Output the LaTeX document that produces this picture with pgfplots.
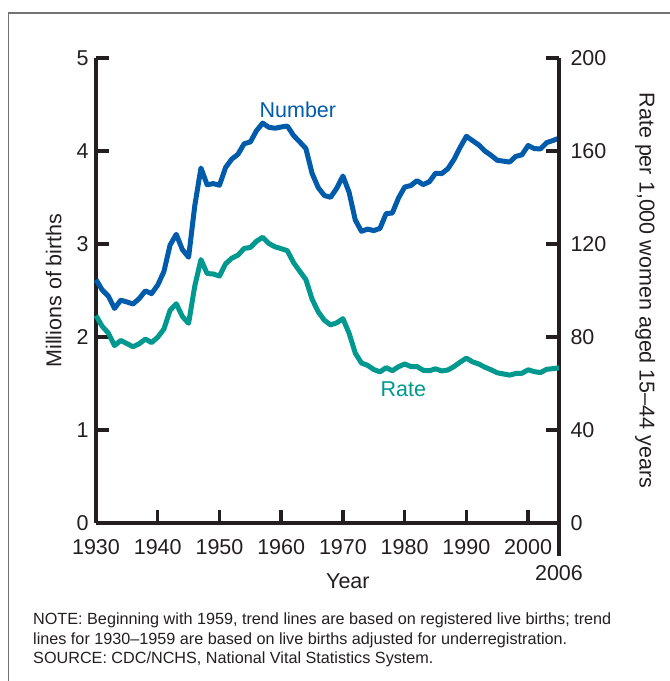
\documentclass[border=0pt]{standalone}
\usepackage{pgfplots}
\pgfplotsset{compat=1.18}
\usepackage{fontspec}
\setmainfont{Liberation Sans}

\definecolor{numblue}{RGB}{0,91,170}
\definecolor{rateteal}{RGB}{0,152,143}
\definecolor{txt}{RGB}{35,31,32}
\definecolor{framegray}{RGB}{115,115,115}

% births in millions, 1930-2005
\pgfplotstableread{
year num
1930 2.618
1931 2.506
1932 2.440
1933 2.307
1934 2.396
1935 2.377
1936 2.355
1937 2.413
1938 2.496
1939 2.466
1940 2.559
1941 2.703
1942 2.989
1943 3.104
1944 2.939
1945 2.858
1946 3.411
1947 3.817
1948 3.637
1949 3.649
1950 3.632
1951 3.823
1952 3.913
1953 3.965
1954 4.078
1955 4.097
1956 4.218
1957 4.300
1958 4.255
1959 4.245
1960 4.258
1961 4.268
1962 4.167
1963 4.098
1964 4.027
1965 3.760
1966 3.606
1967 3.521
1968 3.502
1969 3.600
1970 3.731
1971 3.556
1972 3.258
1973 3.137
1974 3.160
1975 3.144
1976 3.168
1977 3.327
1978 3.333
1979 3.494
1980 3.612
1981 3.629
1982 3.681
1983 3.639
1984 3.669
1985 3.761
1986 3.757
1987 3.809
1988 3.910
1989 4.041
1990 4.158
1991 4.111
1992 4.065
1993 4.000
1994 3.953
1995 3.900
1996 3.891
1997 3.881
1998 3.942
1999 3.959
2000 4.059
2001 4.026
2002 4.022
2003 4.090
2004 4.112
2005 4.138
}\numtable

% rate per 1,000 women aged 15-44
\pgfplotstableread{
year rate
1930 89.2
1931 84.6
1932 81.7
1933 76.3
1934 78.5
1935 77.2
1936 75.8
1937 77.1
1938 79.1
1939 77.6
1940 79.9
1941 83.4
1942 91.5
1943 94.3
1944 88.8
1945 85.9
1946 101.9
1947 113.3
1948 107.3
1949 107.1
1950 106.2
1951 111.5
1952 113.9
1953 115.2
1954 118.1
1955 118.5
1956 121.2
1957 122.9
1958 120.2
1959 118.8
1960 118.0
1961 117.1
1962 112.0
1963 108.3
1964 104.7
1965 96.3
1966 90.8
1967 87.2
1968 85.2
1969 86.1
1970 87.9
1971 81.6
1972 73.1
1973 68.8
1974 67.8
1975 66.0
1976 65.0
1977 66.8
1978 65.5
1979 67.2
1980 68.4
1981 67.3
1982 67.3
1983 65.7
1984 65.5
1985 66.3
1986 65.4
1987 65.8
1988 67.3
1989 69.2
1990 70.9
1991 69.3
1992 68.4
1993 67.0
1994 65.9
1995 64.6
1996 64.1
1997 63.6
1998 64.3
1999 64.4
2000 65.9
2001 65.1
2002 64.7
2003 66.1
2004 66.4
2005 66.7
}\ratetable

\pgfplotsset{
  base/.style={
    scale only axis, width=463pt, height=465pt,
    at={(96pt,158pt)}, anchor=south west,
    xmin=1930, xmax=2005, ymin=0,
    font=\fontsize{21.5}{25}\selectfont,
    tick align=inside, major tick length=13pt,
    axis line style={line width=3.5pt, txt},
    every tick/.style={line width=3.5pt, txt},
    tick label style={txt},
    label style={txt},
    /pgf/number format/assume math mode=true,
    /pgf/number format/1000 sep={},
    clip=false,
  },
}

\begin{document}
\begin{tikzpicture}[x=1pt,y=1pt]
\useasboundingbox (0,0) rectangle (670,681);
\draw[framegray, line width=1.2pt] (8.5,-2) -- (8.5,668) -- (672,668);

\begin{axis}[base,
    ymax=5,
    axis x line*=bottom, axis y line*=left,
    xtick={1930,1940,...,2000},
    extra x ticks={2005}, extra x tick labels={2006},
    extra x tick style={tick align=outside, major tick length=33pt,
                        xticklabel style={yshift=7pt}},
    ytick={0,1,...,5},
    xticklabel style={yshift=-12.5pt},
    yticklabel style={xshift=-4pt},
    xlabel={Year},
    xlabel style={at={(axis description cs:0.544,0)}, anchor=north, yshift=-47pt},
    ylabel={Millions of births},
    ylabel shift=8pt,
  ]
  \addplot[numblue, line width=5pt, line join=round] table[x=year,y=num] {\numtable};
  \node[numblue] at (axis cs:1962.7,4.44) {Number};
  \node[rateteal] at (axis cs:1979.8,1.44) {Rate};
\end{axis}

\begin{axis}[base,
    ymax=200,
    axis x line=none, axis y line*=right,
    ytick={0,40,...,200},
    yticklabel style={xshift=8pt},
    ylabel={Rate per 1,000 women aged 15--44 years},
    ylabel style={rotate=180},
    ylabel shift=22pt,
  ]
  \addplot[rateteal, line width=5pt, line join=round] table[x=year,y=rate] {\ratetable};
\end{axis}

\node[anchor=north west, align=left, inner sep=0pt, txt,
      font=\fontsize{16.2}{19.2}\selectfont] at (33,68)
  {NOTE: Beginning with 1959, trend lines are based on registered live births; trend\\
   lines for 1930--1959 are based on live births adjusted for underregistration.\\
   SOURCE: CDC/NCHS, National Vital Statistics System.};
\end{tikzpicture}
\end{document}
